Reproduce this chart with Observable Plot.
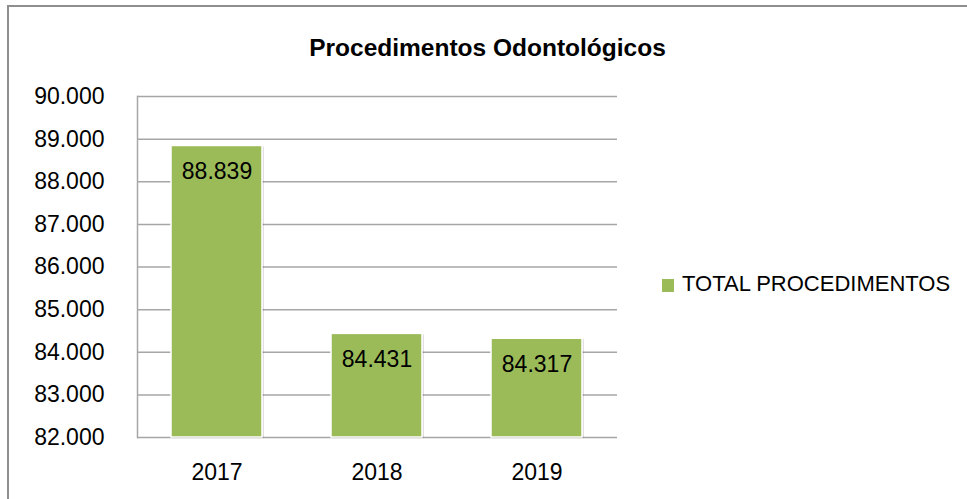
<!DOCTYPE html>
<html>
<head>
<meta charset="utf-8">
<script src="https://cdn.jsdelivr.net/npm/d3@7"></script>
<script src="https://cdn.jsdelivr.net/npm/@observablehq/plot@0.6"></script>
<style>
  html, body { margin: 0; padding: 0; background: #fff; overflow: hidden; }
  #wrap { position: relative; width: 967px; height: 499px; overflow: hidden; font-family: "Liberation Sans", Arial, sans-serif; }
  #border { position: absolute; left: 7px; top: 5px; width: 2000px; height: 2000px; border-left: 2px solid #8e8e8e; border-top: 2px solid #8e8e8e; }
  #chart { position: absolute; left: 0; top: 0; }
  #title { position: absolute; left: 0; width: 975px; top: 36px; text-align: center; font-weight: bold; font-size: 24.5px; line-height: 24px; color: #000; }
  #legend { position: absolute; left: 662px; top: 273px; font-size: 22px; line-height: 22px; color: #000; white-space: nowrap; }
  #legend .sw { position: absolute; left: 0; top: 6px; width: 12px; height: 13px; }
  #legend .lab { position: absolute; left: 20px; top: 0; }
</style>
</head>
<body>
<div id="wrap">
  <div id="border"></div>
  <div id="chart"></div>
  <div id="title"></div>
  <div id="legend"><span class="sw"></span><span class="lab"></span></div>
</div>
<script>
const title = "Procedimentos Odontológicos";
const seriesName = "TOTAL PROCEDIMENTOS";
const years = ["2017", "2018", "2019"];
const values = [88839, 84431, 84317];
const yTicks = [82000, 83000, 84000, 85000, 86000, 87000, 88000, 89000, 90000];
const barColor = "#9BBB59";
const gridColor = "#a6a6a6";

const ptBR = d3.formatLocale({decimal: ",", thousands: ".", grouping: [3], currency: ["R$", ""]});
const fmt = ptBR.format(",d");

const data = years.map((year, i) => ({year, value: values[i]}));
const yMin = yTicks[0];

const chart = Plot.plot({
  width: 967,
  height: 499,
  marginLeft: 137,
  marginRight: 350,
  marginTop: 96,
  marginBottom: 62,
  style: {fontFamily: "'Liberation Sans', Arial, sans-serif", fontSize: "23px", color: "#000", background: "transparent", overflow: "visible"},
  x: {domain: years, paddingInner: 0.43, paddingOuter: 0.215, label: null},
  y: {domain: [yTicks[0], yTicks[yTicks.length - 1]], label: null},
  marks: [
    Plot.ruleY(yTicks, {stroke: gridColor, strokeWidth: 1.5}),
    Plot.frame({anchor: "left", stroke: gridColor, strokeWidth: 1.5}),
    Plot.barY(data, {x: "year", y1: yMin, y2: "value", fill: "#000", fillOpacity: 0.12, dx: 2, dy: 1}),
    Plot.barY(data, {x: "year", y1: yMin, y2: "value", fill: barColor, stroke: "#fff", strokeWidth: 1.5}),
    Plot.text(data, {x: "year", y: "value", text: d => fmt(d.value), dy: 26, fontSize: 23, fill: "#000"}),
    Plot.axisY({ticks: yTicks, tickFormat: fmt, tickSize: 0, tickPadding: 33, fontSize: 23, label: null}),
    Plot.axisX({tickSize: 0, tickPadding: 26, fontSize: 23, label: null})
  ]
});
document.getElementById("chart").appendChild(chart);
document.getElementById("title").textContent = title;
document.querySelector("#legend .sw").style.background = barColor;
document.querySelector("#legend .lab").textContent = seriesName;
</script>
</body>
</html>
